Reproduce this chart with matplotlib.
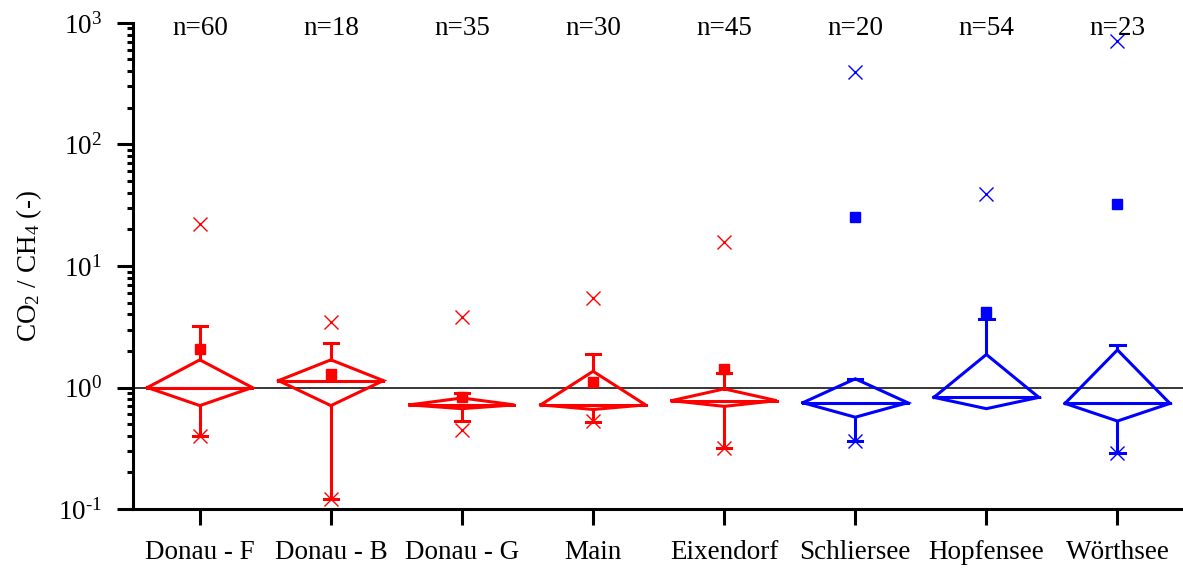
import numpy as np
import matplotlib
matplotlib.use("Agg")
import matplotlib.pyplot as plt
from matplotlib.transforms import blended_transform_factory

plt.rcParams['font.family'] = ['Liberation Serif', 'DejaVu Serif']
plt.rcParams['mathtext.fontset'] = 'custom'
plt.rcParams['mathtext.rm'] = 'Liberation Serif'
plt.rcParams['mathtext.it'] = 'Liberation Serif:italic'
plt.rcParams['mathtext.bf'] = 'Liberation Serif:bold'

# data
sites = ["Donau - F", "Donau - B", "Donau - G", "Main", "Eixendorf",
         "Schliersee", "Hopfensee", "Wörthsee"]
n_counts = [60, 18, 35, 30, 45, 20, 54, 23]
q1 = [0.71, 0.71, 0.67, 0.66, 0.70, 0.57, 0.67, 0.53]
median = [1.0, 1.14, 0.72, 0.72, 0.78, 0.75, 0.83, 0.74]
q3 = [1.69, 1.69, 0.82, 1.36, 0.975, 1.18, 1.87, 2.04]
whisker_low = [0.40, 0.12, 0.53, 0.525, 0.32, 0.36, np.nan, 0.29]
whisker_high = [3.18, 2.33, 0.90, 1.87, 1.31, 1.18, 3.67, 2.22]
means = [2.08, 1.28, 0.83, 1.12, 1.41, 25.1, 4.17, 32.1]
min_vals = [0.40, 0.12, 0.45, 0.53, 0.32, 0.36, np.nan, 0.29]
max_vals = [22, 3.45, 3.79, 5.47, 15.9, 398, 38.8, 704]
colors = ["#ff0000"] * 5 + ["#0000ff"] * 3

y_ticks = [0.1, 1, 10, 100, 1000]
y_ticklabels = [r"$\mathregular{10^{\text{-}1}}$", r"$\mathregular{10^{0}}$",
                r"$\mathregular{10^{1}}$", r"$\mathregular{10^{2}}$",
                r"$\mathregular{10^{3}}$"]

fs = 19.5

fig = plt.figure(figsize=(11.83, 5.72), dpi=100)
ax = fig.add_axes([0.1124, 0.110, 0.8876, 0.850])

# reference line at ratio 1
ax.axhline(1.0, color="black", lw=1.1, zorder=1)

half_w = 0.4
cap_w = 0.055
lw = 2.2
for i, site in enumerate(sites):
    x = i + 1
    c = colors[i]
    # diamond box: top at Q3, bottom at Q1, side corners at the median
    ax.plot([x - half_w, x, x + half_w, x, x - half_w],
            [median[i], q3[i], median[i], q1[i], median[i]],
            color=c, lw=lw, solid_joinstyle="miter", zorder=3)
    ax.plot([x - half_w, x + half_w], [median[i], median[i]], color=c, lw=lw, zorder=3)
    # whiskers
    if not np.isnan(whisker_high[i]) and whisker_high[i] > q3[i]:
        ax.plot([x, x], [q3[i], whisker_high[i]], color=c, lw=lw, zorder=3)
    if not np.isnan(whisker_high[i]):
        ax.plot([x - cap_w, x + cap_w], [whisker_high[i]] * 2, color=c, lw=lw, zorder=3)
    if not np.isnan(whisker_low[i]):
        ax.plot([x, x], [q1[i], whisker_low[i]], color=c, lw=lw, zorder=3)
        ax.plot([x - cap_w, x + cap_w], [whisker_low[i]] * 2, color=c, lw=lw, zorder=3)
    # mean and min / max
    ax.plot(x, means[i], marker="s", ms=7, color=c, mec=c, ls="none", zorder=4)
    ax.plot([x, x], [min_vals[i], max_vals[i]], marker="x", ms=10, mew=1.0,
            color=c, ls="none", zorder=4)

ax.set_yscale("log")
ax.set_ylim(0.1, 1000)
ax.set_yticks(y_ticks)
ax.set_yticklabels(y_ticklabels)
ax.set_xlim(0.49, 8.5)
ax.set_xticks(range(1, len(sites) + 1))
ax.set_xticklabels(sites)

ax.spines["top"].set_visible(False)
ax.spines["right"].set_visible(False)
ax.spines["left"].set_linewidth(2.2)
ax.spines["bottom"].set_linewidth(2.2)
ax.tick_params(axis="both", which="major", direction="out", length=11.5, width=2.2,
               labelsize=fs)
ax.tick_params(axis="y", which="major", pad=11)
ax.tick_params(axis="y", which="minor", direction="out", length=4.5, width=2.2)
ax.tick_params(axis="x", which="major", pad=11)

ax.set_ylabel(r"CO$_2$ / CH$_4$ (-)", fontsize=fs, labelpad=10)

trans = blended_transform_factory(ax.transData, ax.transAxes)
for i, n in enumerate(n_counts):
    ax.text(i + 1, 0.989, f"n={n}", transform=trans, ha="center", va="center",
            fontsize=fs, zorder=2)

fig.savefig("out.png", dpi=100)
